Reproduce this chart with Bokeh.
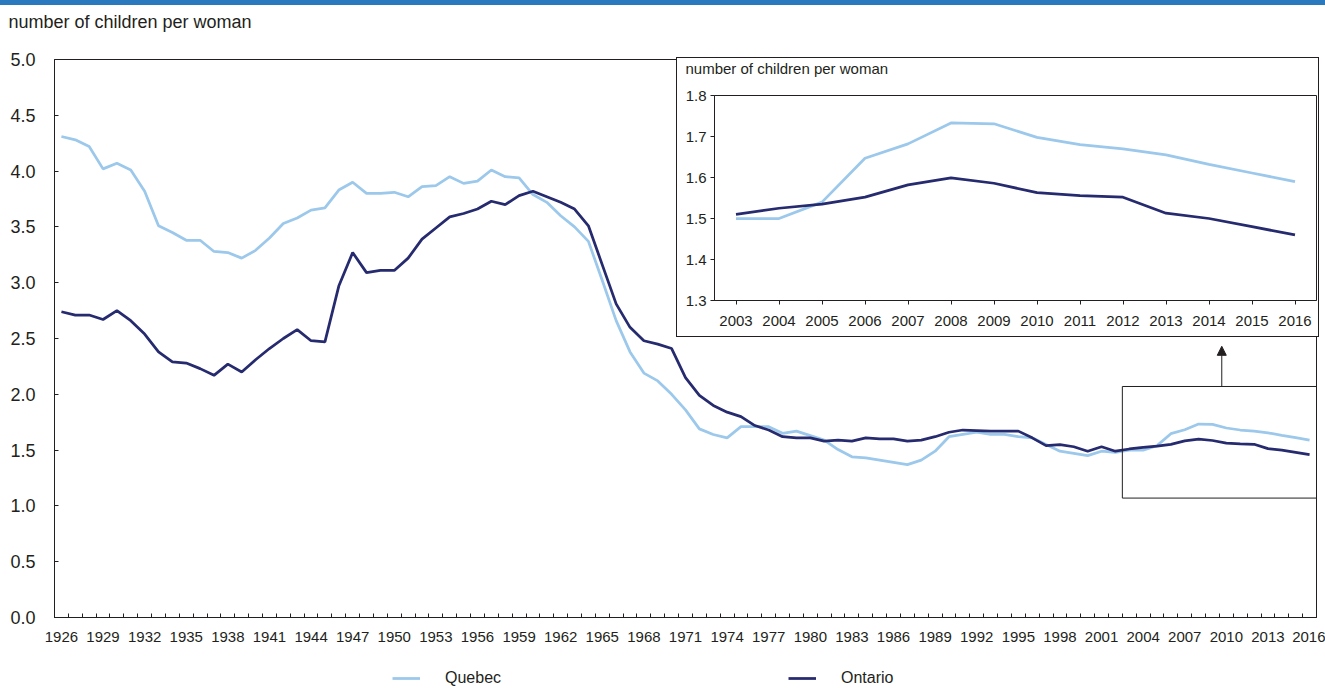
from bokeh.plotting import figure
from bokeh.models import (FixedTicker, PrintfTickFormatter, Range1d, Legend, LegendItem,
                          BoxAnnotation, Arrow, NormalHead, Title)
from bokeh.embed import file_html
from bokeh.resources import INLINE

# ---------------- data ----------------
years = list(range(1926, 2017))
quebec = [4.31, 4.28, 4.22, 4.02, 4.07, 4.01, 3.82, 3.51, 3.45, 3.38,
          3.38, 3.28, 3.27, 3.22, 3.29, 3.40, 3.53, 3.58, 3.65, 3.67,
          3.83, 3.90, 3.80, 3.80, 3.81, 3.77, 3.86, 3.87, 3.95, 3.89,
          3.91, 4.01, 3.95, 3.94, 3.79, 3.72, 3.60, 3.50, 3.37, 3.02,
          2.66, 2.38, 2.19, 2.12, 2.00, 1.86, 1.69, 1.64, 1.61, 1.71,
          1.71, 1.71, 1.65, 1.67, 1.63, 1.59, 1.505, 1.44, 1.43, 1.41,
          1.39, 1.37, 1.41, 1.49, 1.62, 1.64, 1.66, 1.64, 1.64, 1.62,
          1.61, 1.55, 1.49, 1.47, 1.45, 1.49, 1.48,
          1.50, 1.50, 1.54, 1.647, 1.682, 1.733, 1.731, 1.698, 1.68, 1.67,
          1.655, 1.632, 1.611, 1.59]
ontario = [2.74, 2.71, 2.71, 2.67, 2.75, 2.66, 2.54, 2.38, 2.29, 2.28,
           2.23, 2.17, 2.27, 2.20, 2.31, 2.41, 2.50, 2.58, 2.48, 2.47,
           2.97, 3.27, 3.09, 3.11, 3.11, 3.22, 3.39, 3.49, 3.59, 3.62,
           3.66, 3.73, 3.70, 3.78, 3.82, 3.77, 3.72, 3.66, 3.51, 3.16,
           2.81, 2.60, 2.48, 2.45, 2.41, 2.15, 1.99, 1.90, 1.84, 1.80,
           1.72, 1.68, 1.62, 1.61, 1.61, 1.58, 1.59, 1.58, 1.61, 1.60,
           1.60, 1.58, 1.59, 1.62, 1.66, 1.68, 1.675, 1.67, 1.67, 1.67,
           1.61, 1.54, 1.55, 1.53, 1.49, 1.53, 1.49,
           1.51, 1.525, 1.535, 1.552, 1.582, 1.599, 1.586, 1.563, 1.556, 1.552,
           1.513, 1.50, 1.48, 1.46]

inset_years = list(range(2003, 2017))
inset_quebec = quebec[years.index(2003):]
inset_ontario = ontario[years.index(2003):]

main_x_labels = list(range(1926, 2017, 3))
main_y_ticks = [0.0, 0.5, 1.0, 1.5, 2.0, 2.5, 3.0, 3.5, 4.0, 4.5, 5.0]
inset_y_ticks = [1.3, 1.4, 1.5, 1.6, 1.7, 1.8]
series_names = ["Quebec", "Ontario"]
unit_title = "number of children per woman"

# zoom box (data units of main chart) and arrow
zoom_box = dict(left=2002.5, right=2016.5, bottom=1.07, top=2.07)
arrow_x, arrow_y0, arrow_y1 = 2009.67, 2.07, 2.43

# ---------------- style ----------------
FONT = "Liberation Sans"
TXT = "#231f20"
LIGHT = "#9bc8eb"
DARK = "#262a6e"
BAR = "#2a78be"

# ---------------- main figure ----------------
p = figure(width=1325, height=683, x_range=Range1d(1925.5, 2016.5), y_range=Range1d(0, 5),
           output_backend="svg", toolbar_location=None,
           min_border_left=54, min_border_right=9, min_border_top=53, min_border_bottom=71)
p.styles = {"border-top": f"5px solid {BAR}"}
p.outline_line_color = TXT
p.outline_line_width = 1
p.outline_line_alpha = 1
p.xgrid.visible = False
p.ygrid.visible = False
p.background_fill_color = "white"
p.border_fill_color = "white"

# trailing empty line lifts the title well above the frame
p.title = Title(text=unit_title + "\n", align="left", offset=-46,
                vertical_align="top", standoff=12,
                text_font=FONT, text_font_size="18px", text_font_style="normal",
                text_color=TXT)

xa = p.xaxis[0]
xa.ticker = FixedTicker(ticks=main_x_labels, minor_ticks=[y + 0.5 for y in range(1925, 2017)])
xa.major_tick_in = 0
xa.major_tick_out = 0
xa.minor_tick_in = 4
xa.minor_tick_out = 0
xa.minor_tick_line_color = TXT
xa.axis_line_color = TXT
xa.major_label_standoff = 14
xa.major_label_text_font = FONT
xa.major_label_text_font_size = "15px"
xa.major_label_text_color = TXT

ya = p.yaxis[0]
ya.ticker = FixedTicker(ticks=main_y_ticks)
ya.formatter = PrintfTickFormatter(format="%.1f")
ya.major_tick_in = 4
ya.major_tick_out = 0
ya.minor_tick_in = 0
ya.minor_tick_out = 0
ya.major_tick_line_color = TXT
ya.axis_line_color = TXT
ya.major_label_standoff = 19
ya.major_label_text_font = FONT
ya.major_label_text_font_size = "18px"
ya.major_label_text_color = TXT

p.line(years, quebec, line_color=LIGHT, line_width=2.75)
p.line(years, ontario, line_color=DARK, line_width=2.75)

p.add_layout(BoxAnnotation(left=zoom_box["left"], right=zoom_box["right"],
                           bottom=zoom_box["bottom"], top=zoom_box["top"],
                           fill_alpha=0, fill_color=None, line_color=TXT, line_alpha=1,
                           line_width=1, line_dash="solid"))
p.add_layout(Arrow(end=NormalHead(size=9, fill_color=TXT, line_color=TXT),
                   x_start=arrow_x, y_start=arrow_y0, x_end=arrow_x, y_end=arrow_y1,
                   line_color=TXT, line_width=1))

# ---------------- inset figure ----------------
q = figure(width=643, height=280, x_range=Range1d(2002.5, 2016.5), y_range=Range1d(1.3, 1.8),
           output_backend="svg", toolbar_location=None,
           min_border_left=37, min_border_right=4, min_border_top=37, min_border_bottom=38)
q.styles = {"position": "absolute", "left": "676px", "top": "57px",
            "border": f"1px solid {TXT}", "background-color": "white", "z-index": "10"}
q.outline_line_color = TXT
q.outline_line_width = 1
q.xgrid.visible = False
q.ygrid.visible = False
q.title = Title(text=unit_title + "\n", align="left", offset=-29,
                vertical_align="top", standoff=0,
                text_font=FONT, text_font_size="15px", text_font_style="normal",
                text_color=TXT)

qx = q.xaxis[0]
qx.ticker = FixedTicker(ticks=inset_years)
qx.major_tick_in = 0
qx.major_tick_out = 4
qx.minor_tick_in = 0
qx.minor_tick_out = 0
qx.major_tick_line_color = TXT
qx.axis_line_color = TXT
qx.major_label_standoff = 11
qx.major_label_text_font = FONT
qx.major_label_text_font_size = "15px"
qx.major_label_text_color = TXT

qy = q.yaxis[0]
qy.ticker = FixedTicker(ticks=inset_y_ticks)
qy.formatter = PrintfTickFormatter(format="%.1f")
qy.major_tick_in = 0
qy.major_tick_out = 4
qy.minor_tick_in = 0
qy.minor_tick_out = 0
qy.major_tick_line_color = TXT
qy.axis_line_color = TXT
qy.major_label_standoff = 4
qy.major_label_text_font = FONT
qy.major_label_text_font_size = "15px"
qy.major_label_text_color = TXT

q.line(inset_years, inset_quebec, line_color=LIGHT, line_width=2.75)
q.line(inset_years, inset_ontario, line_color=DARK, line_width=2.75)

# ---------------- legend strip (below the main chart) ----------------
lf = figure(width=540, height=22, x_range=Range1d(0, 1), y_range=Range1d(0, 1),
            output_backend="svg", toolbar_location=None,
            x_axis_location=None, y_axis_location=None,
            min_border=0, min_border_left=0, min_border_right=0,
            min_border_top=0, min_border_bottom=0)
lf.styles = {"position": "absolute", "left": "380px", "top": "666px", "z-index": "5"}
lf.outline_line_color = None
lf.xgrid.visible = False
lf.ygrid.visible = False
lf.background_fill_alpha = 0
lf.border_fill_alpha = 0
# the series lines themselves lie outside this strip's ranges; only their legend glyphs show
lq = lf.line(years, quebec, line_color=LIGHT, line_width=2.75)
lo = lf.line(years, ontario, line_color=DARK, line_width=2.75)
for name, rend, xloc in ((series_names[0], lq, 12), (series_names[1], lo, 408)):
    leg = Legend(items=[LegendItem(label=name, renderers=[rend])], location=(xloc, 0),
                 orientation="horizontal", border_line_color=None,
                 background_fill_alpha=0, padding=0, margin=0,
                 glyph_width=28, glyph_height=20, label_height=20, label_standoff=25,
                 label_text_font=FONT, label_text_font_size="16px", label_text_color=TXT)
    lf.add_layout(leg)

open("out.html", "w").write(file_html([p, q, lf], INLINE))
